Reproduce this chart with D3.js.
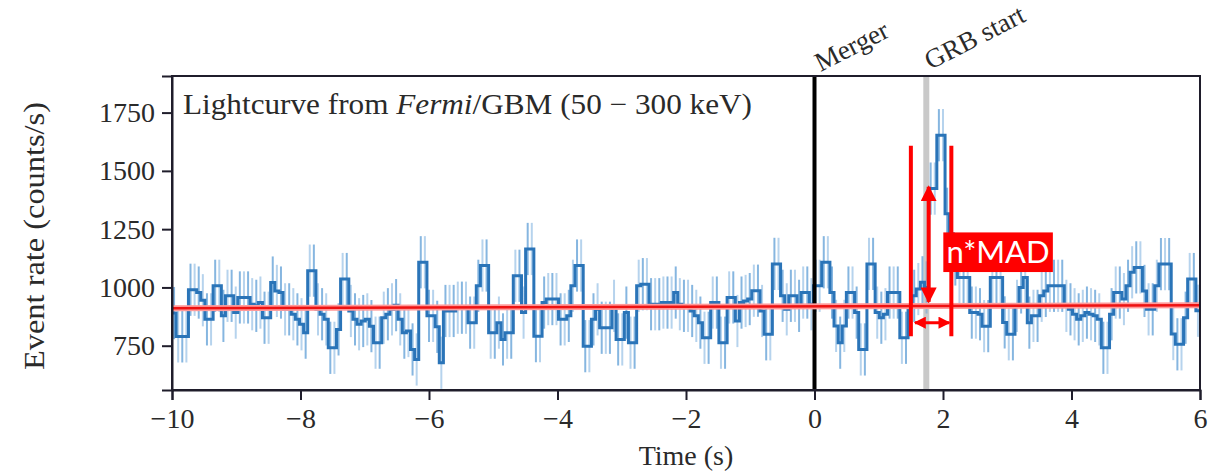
<!DOCTYPE html>
<html>
<head>
    <meta charset="utf-8">
    <title>GBM lightcurve</title>
    <script src="https://d3js.org/d3.v7.min.js"></script>
    <style type="text/css">
        body {
            margin: 0;
            background: white;
        }

        .axis path,
        .axis line {
            fill: none;
            stroke: #1f1d2b;
            stroke-width: 2;
        }

        .axis text {
            font-family: 'Liberation Serif', 'DejaVu Serif', serif;
            font-size: 28px;
            fill: #2a2a2a;
        }

        .lbl {
            font-family: 'Liberation Serif', 'DejaVu Serif', serif;
            fill: #2a2a2a;
        }
    </style>
</head>
<body>
<script type="text/javascript">
    // lightcurve: 0.064 s bins from -10 s, rates (counts/s)
    const tStart = -10, binW = 0.064;
    const rates = [
        890, 790, 790, 790, 990, 990, 978, 945, 863, 863,
        1007, 1007, 878, 964, 964, 892, 957, 957, 957, 928,
        921, 935, 870, 870, 1021, 985, 978, 906, 906, 885,
        863, 842, 806, 1072, 1072, 906, 885, 863, 741, 741,
        820, 1036, 1036, 899, 863, 842, 856, 863, 834, 763,
        763, 870, 885, 906, 924, 863, 806, 813, 734, 691,
        1108, 1108, 878, 878, 831, 677, 899, 899, 899, 913,
        913, 913, 849, 849, 1007, 1094, 1094, 806, 806, 849,
        777, 806, 806, 1050, 1050, 892, 1165, 1165, 791, 791,
        935, 950, 950, 950, 863, 863, 878, 1007, 1094, 1094,
        748, 748, 863, 906, 827, 827, 827, 921, 777, 777,
        892, 763, 763, 1007, 1014, 1014, 928, 928, 928, 935,
        935, 935, 978, 928, 921, 921, 899, 878, 849, 784,
        784, 935, 935, 763, 763, 957, 957, 856, 935, 942,
        950, 986, 986, 899, 799, 799, 1101, 1101, 964, 906,
        964, 964, 921, 978, 978, 928, 1007, 1007, 1108, 1108,
        978, 835, 763, 835, 978, 978, 892, 734, 734, 1101,
        1101, 892, 870, 885, 978, 978, 978, 784, 784, 921,
        964, 993, 1022, 1000, 1424, 1424, 1653, 1653, 1316, 1230,
        1120, 1043, 1043, 1043, 892, 892, 885, 834, 834, 1043,
        1043, 1043, 850, 799, 799, 921, 1000, 1043, 849, 878,
        878, 964, 985, 1007, 1007, 1007, 1007, 921, 906, 885,
        863, 878, 892, 885, 878, 863, 741, 741, 885, 978,
        978, 950, 1007, 1065, 1086, 1086, 985, 906, 906, 1007,
        1100, 1100, 1100, 800, 756, 756, 870, 1036, 1036, 900
    ];
    const errHalf = 112;            // typical error bar half-length (counts/s)

    // background fit (red line) ends
    const bkgT = [-10, 6];
    const bkgRate = [911, 924];

    // event markers (s)
    const mergerT = 0;
    const grbStartT = 1.74;

    // n*MAD annotation, in data units
    const madLinesT = [1.50, 2.13];
    const madLineRate = [791, 1608];
    const madArrowT = 1.777;
    const madArrowRate = [938, 1432];
    const winArrowT = [1.564, 2.098];
    const winArrowRate = 849;
    const madBoxT = [2.005, 3.71];
    const madBoxRate = [1066, 1236];

    // ticks
    const xTicks = [-10, -8, -6, -4, -2, 0, 2, 4, 6];
    const yTicks = [750, 1000, 1250, 1500, 1750];

    // setup svg
    const svgW = 1211, svgH = 471;
    const margin = {left: 172, right: 11, top: 76, bottom: 81};
    const svg = d3.select("body")
        .append("svg")
        .attr("width", svgW)
        .attr("height", svgH);

    const x = d3.scaleLinear().domain([-10, 6]).range([margin.left, svgW - margin.right]);
    const y = d3.scaleLinear().domain([560, 1907]).range([svgH - margin.bottom, margin.top]);

    const fmt = d => (d < 0 ? "\u2212" + Math.abs(d) : String(d));

    // gray GRB start band
    svg.append("line")
        .attr("x1", x(grbStartT)).attr("x2", x(grbStartT))
        .attr("y1", y.range()[0]).attr("y2", y.range()[1])
        .attr("stroke", "#c9c9c9").attr("stroke-width", 6);

    // error bars
    const pts = rates.map((r, i) => ({t: tStart + i * binW, r: r}));
    svg.append("g").selectAll("line")
        .data(pts)
        .join("line")
        .attr("x1", d => x(d.t + binW / 2))
        .attr("x2", d => x(d.t + binW / 2))
        .attr("y1", d => y(d.r - errHalf))
        .attr("y2", d => y(d.r + errHalf))
        .attr("stroke", "#5d9ed6")
        .attr("stroke-opacity", (d, i) => (i % 2 ? 0.45 : 0.75))
        .attr("stroke-width", 2);

    // step line
    const stepPts = pts.concat([{t: 6, r: rates[rates.length - 1]}]);
    const step = d3.line()
        .x(d => x(d.t))
        .y(d => y(d.r))
        .curve(d3.curveStepAfter);
    svg.append("path")
        .attr("d", step(stepPts))
        .attr("fill", "none")
        .attr("stroke", "#2a74b8")
        .attr("stroke-width", 3);

    // merger line
    svg.append("line")
        .attr("x1", x(mergerT)).attr("x2", x(mergerT))
        .attr("y1", y.range()[0]).attr("y2", y.range()[1])
        .attr("stroke", "black").attr("stroke-width", 4);

    // background line
    svg.append("line")
        .attr("x1", x(bkgT[0])).attr("x2", x(bkgT[1]))
        .attr("y1", y(bkgRate[0])).attr("y2", y(bkgRate[1]))
        .attr("stroke", "#ff9a9a").attr("stroke-width", 6);
    svg.append("line")
        .attr("x1", x(bkgT[0])).attr("x2", x(bkgT[1]))
        .attr("y1", y(bkgRate[0])).attr("y2", y(bkgRate[1]))
        .attr("stroke", "#ee1111").attr("stroke-width", 2.5);

    // axes
    const xAxis = d3.axisBottom(x).tickValues(xTicks).tickFormat(fmt).tickSize(10).tickPadding(8);
    const yAxis = d3.axisLeft(y).tickValues(yTicks).tickFormat(d3.format("d")).tickSize(10).tickPadding(7);
    svg.append("g").attr("class", "axis")
        .attr("transform", `translate(0,${svgH - margin.bottom})`)
        .call(xAxis);
    svg.append("g").attr("class", "axis")
        .attr("transform", `translate(${margin.left},0)`)
        .call(yAxis);
    // frame
    svg.append("rect")
        .attr("x", margin.left).attr("y", margin.top)
        .attr("width", svgW - margin.left - margin.right)
        .attr("height", svgH - margin.top - margin.bottom)
        .attr("fill", "none").attr("stroke", "#1f1d2b").attr("stroke-width", 2);

    // axis labels
    svg.append("text").attr("class", "lbl")
        .attr("x", 686).attr("y", 465)
        .attr("text-anchor", "middle").attr("font-size", 28)
        .text("Time (s)");
    svg.append("text").attr("class", "lbl")
        .attr("transform", "translate(44,236) rotate(-90)")
        .attr("text-anchor", "middle").attr("font-size", 29)
        .attr("textLength", 268).attr("lengthAdjust", "spacingAndGlyphs")
        .text("Event rate (counts/s)");

    // inset title
    const title = svg.append("text").attr("class", "lbl")
        .attr("x", 183).attr("y", 114).attr("font-size", 29)
        .attr("textLength", 569).attr("lengthAdjust", "spacingAndGlyphs");
    title.append("tspan").text("Lightcurve from ");
    title.append("tspan").attr("font-style", "italic").text("Fermi");
    title.append("tspan").text("/GBM (50 \u2212 300 keV)");

    // event labels
    svg.append("text").attr("class", "lbl")
        .attr("transform", `translate(${x(mergerT) + 6},72) rotate(-27)`)
        .attr("font-size", 27)
        .text("Merger");
    svg.append("text").attr("class", "lbl")
        .attr("transform", `translate(${x(grbStartT) + 4},70) rotate(-27)`)
        .attr("font-size", 27)
        .text("GRB start");

    // n*MAD annotation
    const red = "#ff0000";
    svg.append("defs").append("marker")
        .attr("id", "ah")
        .attr("viewBox", "0 0 10 10")
        .attr("refX", 9).attr("refY", 5)
        .attr("markerWidth", 4).attr("markerHeight", 4)
        .attr("orient", "auto-start-reverse")
        .append("path").attr("d", "M0,0 L10,5 L0,10 z").attr("fill", red);

    madLinesT.forEach(t => {
        svg.append("line")
            .attr("x1", x(t)).attr("x2", x(t))
            .attr("y1", y(madLineRate[0])).attr("y2", y(madLineRate[1]))
            .attr("stroke", red).attr("stroke-width", 4);
    });
    svg.append("line")
        .attr("x1", x(madArrowT)).attr("x2", x(madArrowT))
        .attr("y1", y(madArrowRate[0])).attr("y2", y(madArrowRate[1]))
        .attr("stroke", red).attr("stroke-width", 4)
        .attr("marker-start", "url(#ah)").attr("marker-end", "url(#ah)");
    svg.append("line")
        .attr("x1", x(winArrowT[0])).attr("x2", x(winArrowT[1]))
        .attr("y1", y(winArrowRate)).attr("y2", y(winArrowRate))
        .attr("stroke", red).attr("stroke-width", 3)
        .attr("marker-start", "url(#ah)").attr("marker-end", "url(#ah)");
    svg.append("rect")
        .attr("x", x(madBoxT[0])).attr("y", y(madBoxRate[1]))
        .attr("width", x(madBoxT[1]) - x(madBoxT[0]))
        .attr("height", y(madBoxRate[0]) - y(madBoxRate[1]))
        .attr("fill", red);
    svg.append("text")
        .attr("x", (x(madBoxT[0]) + x(madBoxT[1])) / 2)
        .attr("y", y(madBoxRate[0]) - 9)
        .attr("text-anchor", "middle")
        .attr("font-family", "Lato, 'Open Sans', sans-serif")
        .attr("font-size", 31)
        .attr("fill", "white")
        .text("n*MAD");
</script>
</body>
</html>
